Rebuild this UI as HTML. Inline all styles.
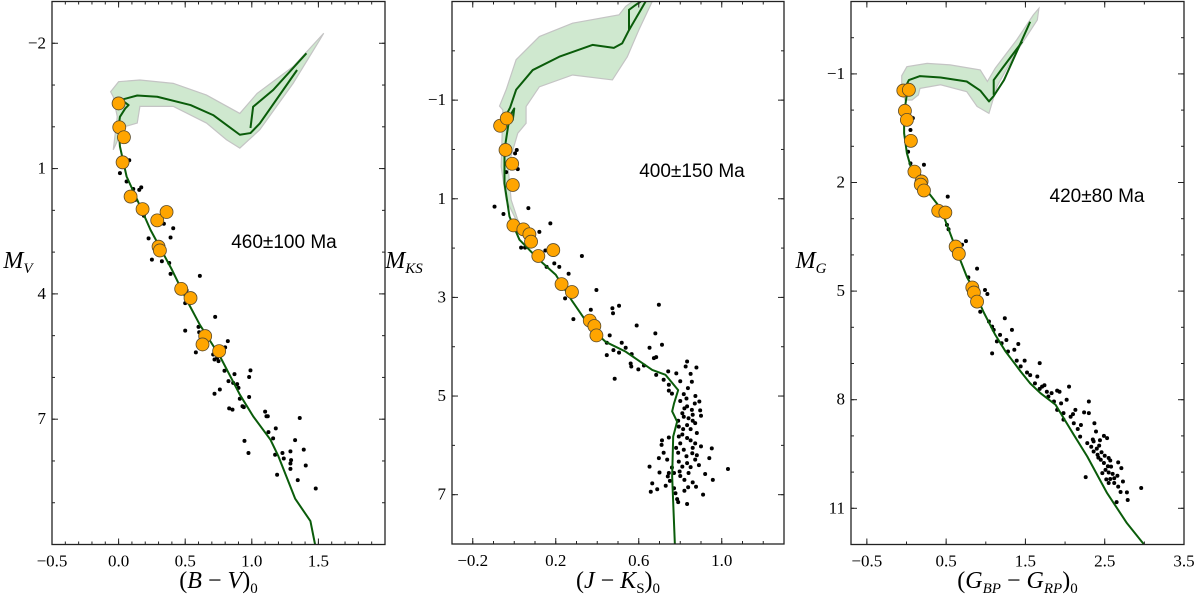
<!DOCTYPE html>
<html><head><meta charset="utf-8">
<style>
html,body{margin:0;padding:0;background:#fff;}
svg{display:block;}
.tk{font-family:"Liberation Serif",serif;font-size:17px;fill:#000;}
.ax{font-family:"Liberation Serif",serif;font-size:24px;fill:#000;}
.ann{font-family:"Liberation Sans",sans-serif;font-size:19px;fill:#000;}
</style></head>
<body>
<svg id="fig" width="1200" height="598" viewBox="0 0 1200 598"></svg>
<script>
// ===== Panel 1 data (B-V, M_V) =====
const iso1Main=[[1.475,10.0],[1.44,9.44],[1.325,8.9],[1.2,7.89],[1.14,7.49],[1.01,6.93],[0.91,6.41],[0.76,5.49],[0.61,4.74],[0.51,4.14],[0.40,3.42],[0.24,2.47],[0.14,1.75],[0.06,1.19],[0.01,0.47],[0.0,0.0],[0.01,-0.24],[0.05,-0.44],[0.075,-0.52],[0.04,-0.6],[-0.025,-0.56],[0.0125,-0.64],[0.14,-0.75],[0.29,-0.72],[0.54,-0.52],[0.71,-0.28],[0.91,0.19],[0.99,0.15],[1.06,-0.08],[1.34,-1.36]];
const iso1Branch=[[0.99,0.03],[1.01,-0.48],[1.16,-0.88],[1.41,-1.76]];
const band1=[[-0.06,-0.84],[0,-1.08],[0.16,-1.12],[0.41,-1.04],[0.66,-0.76],[0.91,-0.32],[1.04,-0.8],[1.31,-1.44],[1.54,-2.24],[1.51,-2.08],[1.31,-1.04],[1.06,0.07],[0.91,0.51],[0.81,0.31],[0.66,-0.09],[0.41,-0.49],[0.16,-0.49],[0.14,-0.09],[0.04,0],[-0.04,0.55],[-0.01,-0.24],[-0.04,-0.72]];
const stars1=[[0.08,0.80],[0.01,1.11],[0.06,1.31],[0.11,1.49],[0.17,1.45],[0.155,1.51],[0.125,1.75],[0.19,2.13],[0.34,2.32],[0.41,2.43],[0.225,2.67],[0.39,2.65],[0.25,3.18],[0.325,3.22],[0.38,3.26],[0.39,3.52],[0.61,3.57],[0.51,3.91],[0.5,4.22],[0.725,4.55],[0.5,4.88],[0.6,4.79],[0.605,4.92],[0.58,5.40],[0.82,5.13],[0.8,5.28],[0.71,5.45],[0.74,5.53],[0.72,5.57],[0.75,5.61],[0.795,5.84],[0.87,5.92],[0.99,5.83],[0.98,5.99],[0.825,6.09],[0.86,6.13],[0.89,6.16],[0.9,6.25],[0.76,6.29],[0.72,6.39],[0.91,6.51],[0.98,6.47],[0.83,6.74],[0.855,6.77],[0.93,6.69],[0.94,6.71],[1.1,6.82],[1.11,6.93],[1.12,6.93],[1.36,6.97],[1.18,7.22],[1.125,7.31],[1.16,7.46],[0.945,7.52],[1.325,7.50],[0.975,7.81],[1.175,7.85],[1.23,7.81],[1.39,7.73],[1.29,7.77],[1.24,7.94],[1.295,7.98],[1.29,8.06],[1.405,8.11],[1.29,8.19],[1.19,8.33],[1.345,8.46],[1.48,8.66]];
const members1=[[0,-0.56],[0.005,0.01],[0.04,0.25],[0.03,0.85],[0.09,1.67],[0.18,1.97],[0.29,2.24],[0.36,2.04],[0.30,2.87],[0.31,2.96],[0.47,3.88],[0.54,4.1],[0.65,5.01],[0.63,5.21],[0.755,5.37]];
const xt1=[-0.5,0.0,0.5,1.0,1.5]; const yt1=[-2,1,4,7];

// ===== Panel 2 data (J-Ks, M_Ks) =====
const iso2Main=[[0.774,8.0],[0.761,6.63],[0.766,5.82],[0.785,5.52],[0.761,5.31],[0.77,5.15],[0.79,4.88],[0.729,4.57],[0.665,4.47],[0.537,4.10],[0.44,3.90],[0.37,3.63],[0.28,3.08],[0.2,2.54],[0.12,2.24],[0.025,1.83],[-0.023,1.36],[-0.047,0.69],[-0.047,0.01],[-0.03,-0.46],[-0.018,-0.70],[0.0,-0.83],[-0.007,-0.60],[-0.047,-0.63],[-0.02,-0.85],[0.009,-1.21],[0.089,-1.61],[0.217,-1.88],[0.377,-2.12],[0.48,-2.06],[0.52,-2.15],[0.553,-2.42],[0.6,-2.76],[0.633,-3.0]];
const iso2Branch=[[0.553,-2.42],[0.553,-2.83],[0.585,-2.93],[0.61,-3.0]];
const band2=[[-0.071,-0.88],[-0.039,-1.21],[0.009,-1.82],[0.121,-2.29],[0.281,-2.56],[0.505,-2.73],[0.537,-2.9],[0.57,-3.0],[0.665,-3.0],[0.6,-2.42],[0.545,-1.88],[0.473,-1.41],[0.281,-1.51],[0.121,-1.27],[0.057,-0.87],[0.057,-0.53],[0.017,-0.33],[-0.03,0.35],[-0.015,1.02],[0.033,1.63],[-0.039,1.02],[-0.063,0.35],[-0.055,-0.8]];
const stars2=[[-0.095,1.16],[-0.052,1.31],[0.068,1.19],[0.012,0.01],[0.004,0.08],[-0.039,0.46],[0.017,0.40],[0.174,1.50],[0.121,1.67],[0.033,1.99],[0.052,1.99],[0.15,2.05],[0.193,2.31],[0.217,2.38],[0.156,2.38],[0.262,2.52],[0.326,2.16],[0.396,2.85],[0.245,3.02],[0.285,3.44],[0.369,3.25],[0.473,3.22],[0.476,3.32],[0.505,3.17],[0.697,3.15],[0.59,3.57],[0.46,3.77],[0.446,3.92],[0.518,3.92],[0.537,4.02],[0.566,4.15],[0.446,4.17],[0.478,4.07],[0.505,4.12],[0.68,3.73],[0.712,3.96],[0.652,4.02],[0.673,4.23],[0.684,4.21],[0.561,4.34],[0.564,4.40],[0.598,4.46],[0.484,4.65],[0.625,4.38],[0.684,4.57],[0.742,4.50],[0.781,4.54],[0.72,4.67],[0.745,4.77],[0.833,4.30],[0.878,4.42],[0.826,4.40],[0.856,4.71],[0.837,4.84],[0.745,4.89],[0.817,4.96],[0.873,5.0],[0.892,5.11],[0.833,5.21],[0.856,5.28],[0.896,5.29],[0.817,5.42],[0.84,5.45],[0.872,5.55],[0.833,5.59],[0.793,5.62],[0.85,5.67],[0.814,5.67],[0.793,5.82],[0.833,5.85],[0.872,5.96],[0.745,5.84],[0.712,5.90],[0.71,5.99],[0.8,5.96],[0.90,6.02],[0.817,6.09],[0.858,6.16],[0.952,6.06],[0.697,6.26],[0.737,6.29],[0.793,6.33],[0.833,6.36],[0.872,6.29],[0.94,6.26],[0.81,6.43],[0.652,6.43],[0.85,6.44],[0.745,6.56],[0.77,6.56],[0.797,6.53],[0.84,6.56],[0.92,6.58],[1.03,6.48],[0.957,6.7],[0.74,6.63],[0.665,6.77],[0.73,6.82],[0.77,6.87],[0.838,6.85],[0.876,6.84],[0.689,6.89],[0.658,6.94],[0.777,6.97],[0.91,7.0],[0.785,7.09],[0.833,7.19],[0.82,5.25],[0.86,5.38],[0.80,5.10],[0.88,5.75],[0.79,6.15],[0.86,6.05],[0.76,6.45],[0.82,6.70],[0.80,4.70],[0.85,4.55],[0.81,5.35],[0.87,5.15],[0.79,5.50],[0.85,5.90],[0.81,5.78],[0.88,6.20],[0.78,6.05],[0.83,6.22],[0.72,6.15],[0.80,6.62],[0.86,6.75],[0.75,6.72],[0.89,6.40],[0.70,6.55],[0.82,6.92],[0.79,7.15],[0.86,5.50],[0.83,5.05],[0.76,4.95],[0.90,5.40]];
const members2=[[-0.068,-0.48],[-0.036,-0.63],[-0.042,0.01],[-0.01,0.29],[-0.007,0.72],[-0.004,1.54],[0.044,1.62],[0.073,1.72],[0.081,1.87],[0.188,2.04],[0.116,2.16],[0.228,2.73],[0.278,2.89],[0.364,3.47],[0.386,3.58],[0.396,3.77]];
const xt2=[-0.2,0.2,0.6,1.0]; const yt2=[-1,1,3,5,7];

// ===== Panel 3 data (Gbp-Grp, M_G) =====
const iso3Main=[[3.0,12.01],[2.78,11.41],[2.53,10.58],[2.28,9.57],[2.11,8.97],[1.88,8.14],[1.69,7.82],[1.56,7.55],[1.44,7.22],[1.25,6.67],[1.12,6.21],[0.97,5.57],[0.85,4.97],[0.76,4.6],[0.66,4.04],[0.55,3.40],[0.43,2.71],[0.28,2.29],[0.17,2.0],[0.07,1.70],[0.005,1.19],[-0.03,0.64],[-0.03,0.09],[0.0,-0.37],[0.05,-0.60],[0.005,-0.72],[0.03,-0.83],[0.17,-0.94],[0.43,-0.9],[0.76,-0.79],[0.93,-0.54],[1.04,-0.24],[1.1,-0.39],[1.23,-0.83],[1.56,-2.44]];
const iso3Branch=[[1.1,-0.42],[1.1,-0.83],[1.21,-1.16],[1.46,-1.89]];
const band3=[[-0.06,-0.95],[0.005,-1.2],[0.26,-1.29],[0.55,-1.25],[0.93,-1.11],[1.02,-0.79],[1.12,-1.16],[1.39,-1.94],[1.6,-2.63],[1.67,-2.81],[1.65,-2.49],[1.35,-1.48],[1.14,-0.65],[1.04,0.09],[0.89,-0.1],[0.76,-0.51],[0.43,-0.7],[0.17,-0.6],[0.15,-0.42],[0.07,-0.28],[-0.02,-0.28],[-0.06,-0.65]];
const stars3=[[0.08,0.22],[0.05,0.55],[0.02,1.15],[0.05,1.47],[0.22,1.51],[0.16,1.79],[0.52,2.39],[0.51,3.17],[0.53,3.29],[0.75,3.62],[0.70,3.72],[0.89,4.38],[0.78,4.62],[0.99,4.97],[1.02,5.08],[0.93,5.57],[1.04,5.84],[1.08,5.98],[1.1,6.07],[1.24,5.75],[1.33,6.07],[1.18,6.21],[1.26,6.35],[1.14,6.39],[1.2,6.44],[1.08,6.72],[1.41,6.46],[1.36,6.62],[1.28,6.67],[1.39,6.92],[1.49,6.92],[1.44,7.08],[1.68,6.99],[1.52,7.25],[1.56,7.32],[1.65,7.36],[1.62,7.55],[1.71,7.64],[1.68,7.7],[1.77,7.78],[1.83,7.82],[1.9,7.75],[1.93,7.78],[1.79,7.91],[1.86,8.05],[2.05,7.64],[2.02,8.0],[1.9,8.28],[1.98,8.37],[2.07,8.47],[2.13,8.28],[2.3,8.05],[2.24,8.35],[2.3,8.37],[2.11,8.65],[2.16,8.81],[2.19,9.02],[2.28,9.2],[2.37,8.65],[2.39,8.88],[2.36,9.15],[2.49,9.0],[2.53,9.06],[2.43,9.27],[2.36,9.43],[2.41,9.52],[2.45,9.66],[2.55,9.61],[2.49,9.75],[2.57,9.68],[2.51,9.94],[2.47,10.03],[2.55,10.01],[2.67,9.73],[2.71,9.89],[2.57,10.19],[2.62,10.3],[2.67,10.4],[2.73,10.26],[2.55,10.3],[2.78,10.56],[2.65,10.83],[2.79,10.77],[2.96,10.44],[2.26,10.14],[2.54,9.84],[2.62,10.17],[2.40,9.35],[2.46,9.45],[2.58,9.85],[2.44,9.12],[2.33,9.30],[1.98,8.55],[2.20,8.70],[2.50,9.55],[2.60,10.05],[2.42,9.60],[2.66,10.10],[2.52,10.20],[2.70,10.55],[2.35,9.10],[2.10,8.40],[1.95,8.10],[1.74,7.60]];
const members3=[[-0.04,-0.54],[0.03,-0.56],[-0.02,0.02],[0.005,0.27],[0.055,0.85],[0.1,1.70],[0.19,1.97],[0.18,2.06],[0.22,2.22],[0.40,2.78],[0.49,2.83],[0.62,3.77],[0.66,3.97],[0.83,4.90],[0.85,5.04],[0.89,5.29]];
const xt3=[-0.5,0.5,1.5,2.5,3.5]; const yt3=[-1,2,5,8,11];

const NS='http://www.w3.org/2000/svg';
const svg=document.getElementById('fig');
function mk(tag,attrs,parent){const e=document.createElementNS(NS,tag);for(const k in attrs)e.setAttribute(k,attrs[k]);(parent||svg).appendChild(e);return e;}
function fmt(v,dec){const s=Math.abs(v).toFixed(dec);return (v<0?'\u2212':'')+s;}

const panels=[
 {id:'p1',L:52,R:385,T:1.5,B:544.5,x0:-0.5,x1:2.0,y0:-3,y1:10,xt:xt1,yt:yt1,xdec:1,xminor:0.1,yminor:1,
  iso:iso1Main,br:iso1Branch,band:band1,stars:stars1,mem:members1,
  ann:'460±100 Ma',annX:284,annY:248,ylab:'M',ysub:'V',ylx:18},
 {id:'p2',L:452,R:784,T:1.5,B:544,x0:-0.3,x1:1.3,y0:-3,y1:8,xt:xt2,yt:yt2,xdec:1,xminor:0.1,yminor:1,
  iso:iso2Main,br:iso2Branch,band:band2,stars:stars2,mem:members2,
  ann:'400±150 Ma',annX:692,annY:177,ylab:'M',ysub:'KS',ylx:404},
 {id:'p3',L:851,R:1184,T:1.5,B:544.5,x0:-0.7,x1:3.5,y0:-3,y1:12,xt:xt3,yt:yt3,xdec:1,xminor:0.5,yminor:1,
  iso:iso3Main,br:iso3Branch,band:band3,stars:stars3,mem:members3,
  ann:'420±80 Ma',annX:1097,annY:202,ylab:'M',ysub:'G',ylx:811}
];

panels.forEach((p,pi)=>{
  const g=mk('g',{});
  
  
  const sx=v=>p.L+(v-p.x0)/(p.x1-p.x0)*(p.R-p.L);
  const sy=v=>p.T+(v-p.y0)/(p.y1-p.y0)*(p.B-p.T);
  const clipId='clip'+pi;
  const cp=mk('clipPath',{id:clipId},g); mk('rect',{x:p.L,y:p.T,width:p.R-p.L,height:p.B-p.T},cp);
  const plot=mk('g',{'clip-path':'url(#'+clipId+')'},g);
  const band=mk('polygon',{points:p.band.map(d=>sx(d[0])+','+sy(d[1])).join(' '),fill:'#cfe8cf',stroke:'#c4c4c4','stroke-width':1.2},plot);
  
  
  p.stars.forEach(d=>{
    const c=mk('circle',{cx:sx(d[0]),cy:sy(d[1]),r:2,fill:'#000'},plot);
    
    
  });
  const l1=mk('polyline',{points:p.iso.map(d=>sx(d[0])+','+sy(d[1])).join(' '),fill:'none',stroke:'#0a5c0a','stroke-width':2,'stroke-linejoin':'round'},plot);
  
  
  const l2=mk('polyline',{points:p.br.map(d=>sx(d[0])+','+sy(d[1])).join(' '),fill:'none',stroke:'#0a5c0a','stroke-width':2},plot);
  
  
  p.mem.forEach(d=>{
    const c=mk('circle',{cx:sx(d[0]),cy:sy(d[1]),r:6.5,fill:'#ffa500',stroke:'#5a4a2a','stroke-width':0.8},plot);
    
    
  });
  const fr=mk('rect',{x:p.L,y:p.T,width:p.R-p.L,height:p.B-p.T,fill:'none',stroke:'#222','stroke-width':1.3},g);
  
  
  for(let v=Math.ceil(p.x0/p.xminor-1e-6)*p.xminor; v<=p.x1+1e-9; v+=p.xminor){
    const X=sx(v); if(X<=p.L+0.5||X>=p.R-0.5)continue;
    mk('line',{x1:X,x2:X,y1:p.B,y2:p.B-3,stroke:'#222','stroke-width':1},g);
    mk('line',{x1:X,x2:X,y1:p.T,y2:p.T+3,stroke:'#222','stroke-width':1},g);
  }
  for(let v=Math.ceil(p.y0); v<=p.y1; v+=p.yminor){
    const Y=sy(v); if(Y<=p.T+0.5||Y>=p.B-0.5)continue;
    mk('line',{x1:p.L,x2:p.L+3,y1:Y,y2:Y,stroke:'#222','stroke-width':1},g);
    mk('line',{x1:p.R,x2:p.R-3,y1:Y,y2:Y,stroke:'#222','stroke-width':1},g);
  }
  p.xt.forEach(v=>{
    const X=sx(v);
    mk('line',{x1:X,x2:X,y1:p.B,y2:p.B-6,stroke:'#222','stroke-width':1},g);
    mk('line',{x1:X,x2:X,y1:p.T,y2:p.T+6,stroke:'#222','stroke-width':1},g);
    const t=mk('text',{x:X,y:p.B+22,'text-anchor':'middle',class:'tk'},g);
    t.textContent=fmt(v,p.xdec);
    
    
  });
  p.yt.forEach(v=>{
    const Y=sy(v);
    mk('line',{x1:p.L,x2:p.L+6,y1:Y,y2:Y,stroke:'#222','stroke-width':1},g);
    mk('line',{x1:p.R,x2:p.R-6,y1:Y,y2:Y,stroke:'#222','stroke-width':1},g);
    const t=mk('text',{x:p.L-6,y:Y+5,'text-anchor':'end',class:'tk'},g);
    t.textContent=fmt(v,0);
    
    
  });
  const a=mk('text',{x:p.annX,y:p.annY,'text-anchor':'middle',class:'ann'},g);
  a.textContent=p.ann;
  
  
  const yl=mk('text',{x:p.ylx,y:268,'text-anchor':'middle',class:'ax','font-style':'italic'},g);
  
  
  yl.textContent=p.ylab;
  const ys=mk('tspan',{'font-size':'15','dy':'5'},yl); ys.textContent=p.ysub;
  const cx=(p.L+p.R)/2;
  const xl=mk('text',{x:cx,y:588,'text-anchor':'middle',class:'ax'},g);
  
  
  if(pi===0){ xl.innerHTML='(<tspan font-style="italic">B</tspan> − <tspan font-style="italic">V</tspan>)<tspan font-size="15" dy="5">0</tspan>'; }
  else if(pi===1){ xl.innerHTML='(<tspan font-style="italic">J</tspan> − <tspan font-style="italic">K</tspan><tspan font-size="15" dy="5">S</tspan><tspan dy="-5">)</tspan><tspan font-size="15" dy="5">0</tspan>'; }
  else { xl.innerHTML='(<tspan font-style="italic">G</tspan><tspan font-size="15" dy="5" font-style="italic">BP</tspan><tspan dy="-5"> − </tspan><tspan font-style="italic">G</tspan><tspan font-size="15" dy="5" font-style="italic">RP</tspan><tspan dy="-5">)</tspan><tspan font-size="15" dy="5">0</tspan>'; }
});
</script>
</body></html>
